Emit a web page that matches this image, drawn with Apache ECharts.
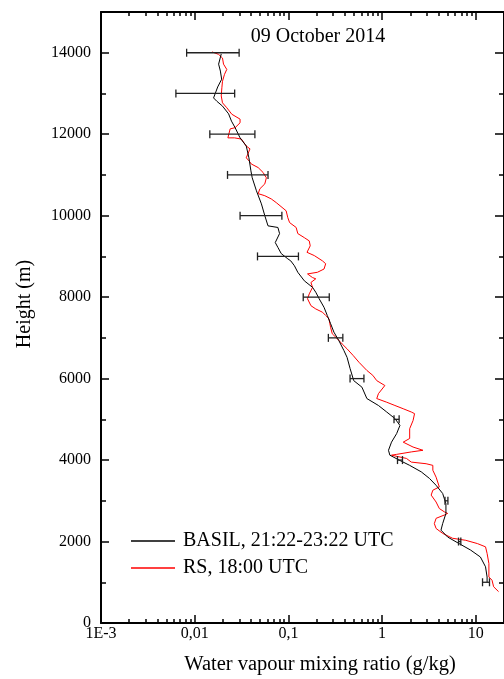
<!DOCTYPE html>
<html><head><meta charset="utf-8">
<script src="https://cdn.jsdelivr.net/npm/echarts@6/dist/echarts.min.js"></script>
<style>html,body{margin:0;padding:0;background:#fff}#c{width:504px;height:679px}</style>
</head><body><div id="c"></div>
<script>
// ---- data ----
const chartTitle = '09 October 2014';
const xTitle = 'Water vapour mixing ratio (g/kg)';
const yTitle = 'Height (m)';
const basilName = 'BASIL, 21:22-23:22 UTC';
const rsName = 'RS, 18:00 UTC';

const xMajorTicks = [0.001, 0.01, 0.1, 1, 10];
const xMajorLabels = ['1E-3', '0,01', '0,1', '1', '10'];
const xMinorTicks = [0.002,0.003,0.004,0.005,0.006,0.007,0.008,0.009,
  0.02,0.03,0.04,0.05,0.06,0.07,0.08,0.09,
  0.2,0.3,0.4,0.5,0.6,0.7,0.8,0.9,
  2,3,4,5,6,7,8,9];
const yMajorTicks = [0,2000,4000,6000,8000,10000,12000,14000];
const yMinorTicks = [1000,3000,5000,7000,9000,11000,13000];

const basilH = [13970,13720,13550,13350,13160,12890,12810,12690,12500,12320,12160,11910,11710,11420,11100,10930,10610,10290,10000,9750,9710,9560,9340,9220,9070,8940,8890,8770,8610,8400,8240,8120,7960,7750,7550,7350,7140,6930,6690,6520,6250,5950,5790,5510,5340,5180,5020,4850,4650,4440,4240,4120,3990,3870,3710,3550,3380,3180,2930,2690,2440,2280,2110,1950,1790,1620,1380,1130,1000];
const basilQ = [0.0192,0.0180,0.0188,0.0194,0.0176,0.0159,0.0172,0.0198,0.0230,0.0247,0.0270,0.0305,0.0355,0.0379,0.0398,0.0411,0.0456,0.0515,0.0560,0.0606,0.0773,0.0805,0.0724,0.0773,0.0838,0.0986,0.106,0.116,0.126,0.148,0.181,0.196,0.213,0.240,0.260,0.282,0.306,0.346,0.391,0.423,0.455,0.498,0.609,0.688,0.914,1.12,1.37,1.55,1.43,1.26,1.17,1.21,1.55,1.97,2.62,3.20,3.77,4.43,4.80,4.80,4.43,4.25,5.01,6.63,8.81,11.2,12.7,13.2,13.2];

const rsH = [14020,13960,13870,13720,13590,13470,13300,13140,12940,12770,12650,12490,12370,12280,12160,12130,11910,11910,11880,11710,11640,11420,11340,11270,11180,11060,10930,10780,10660,10540,10490,10410,10320,10120,9950,9830,9710,9560,9460,9380,9260,9100,9020,8890,8820,8690,8610,8570,8480,8450,8360,8240,8080,7960,7790,7710,7630,7550,7470,7260,7100,6980,6850,6730,6570,6400,6200,6080,5950,5830,5630,5510,5420,5340,5260,5180,5140,4970,4770,4530,4440,4320,4240,4200,4140,4120,4040,3950,3910,3870,3750,3580,3340,3260,3140,2970,2810,2730,2690,2650,2570,2440,2320,2200,2080,2030,1950,1870,1710,1460,1130,1050,890,770];
const rsQ = [0.0153,0.0180,0.0198,0.0203,0.0220,0.0208,0.0198,0.0195,0.0192,0.0198,0.0220,0.0249,0.0305,0.0305,0.0270,0.0239,0.0226,0.0266,0.0315,0.0355,0.0389,0.0355,0.0382,0.0401,0.0476,0.0537,0.0582,0.0560,0.0496,0.0476,0.0560,0.0657,0.0742,0.0946,0.0986,0.103,0.121,0.126,0.148,0.167,0.171,0.158,0.189,0.231,0.250,0.240,0.204,0.160,0.181,0.196,0.174,0.181,0.167,0.160,0.174,0.196,0.231,0.250,0.271,0.282,0.294,0.332,0.375,0.423,0.490,0.567,0.688,0.796,0.877,1.07,0.914,0.877,1.12,1.37,1.68,2.05,2.22,2.14,1.97,1.97,1.68,2.14,2.73,2.05,1.43,1.26,1.82,2.05,2.95,3.48,3.48,3.77,4.08,3.48,3.34,3.77,4.08,4.61,5.01,4.61,3.77,3.61,3.77,4.43,5.65,7.81,10.4,12.7,13.2,13.8,13.8,14.9,15.5,17.5];

const errH  = [14000,13000,12000,11000,10000,9000,8000,7000,6000,5000,4000,3000,2000,1000];
const errLo = [0.0082,0.0063,0.0145,0.0224,0.0305,0.0468,0.144,0.267,0.455,1.34,1.46,4.69,6.54,11.8];
const errHi = [0.0298,0.0267,0.0439,0.0606,0.0852,0.128,0.273,0.381,0.640,1.52,1.65,5.04,6.92,14.0];

// ---- chart ----
const F = 'Liberation Serif';
const X_MIN = 0.001, X_MAX = 20, Y_MIN = 0, Y_MAX = 15000;
const chart = echarts.init(document.getElementById('c'), null, {renderer: 'canvas'});

function xLabel(v) {
  const i = xMajorTicks.findIndex(t => Math.abs(Math.log10(t) - v) < 1e-6);
  return i >= 0 ? xMajorLabels[i] : '';
}
const tickStyle = {color: '#000', width: 1.5};
// data axis (log scale) – carries the series, draws nothing itself
const dataX = {
  type: 'log', logBase: 10, min: X_MIN, max: X_MAX, position: 'bottom', gridIndex: 0,
  axisLine: {show: false}, axisTick: {show: false}, axisLabel: {show: false},
  splitLine: {show: false}, minorTick: {show: false}
};
// decoration axes in log10 space (tick marks at log10 of the tick values)
function xAx(pos, ticks, len, line, labels) {
  const lt = ticks.map(t => Math.log10(t));
  return {
    type: 'value', min: Math.log10(X_MIN), max: Math.log10(X_MAX), position: pos, gridIndex: 0,
    axisLine: {show: line, onZero: false, lineStyle: {color: '#000', width: 2}},
    axisTick: {show: true, inside: true, length: len, customValues: lt, lineStyle: tickStyle},
    axisLabel: labels ? {show: true, customValues: lt, formatter: xLabel, fontFamily: F, fontSize: 16, color: '#000', margin: 3} : {show: false},
    splitLine: {show: false}, minorTick: {show: false}
  };
}
function yAx(pos, ticks, len, line, labels) {
  return {
    type: 'value', min: Y_MIN, max: Y_MAX, position: pos, gridIndex: 0,
    axisLine: {show: line, onZero: false, lineStyle: {color: '#000', width: 2}},
    axisTick: {show: true, inside: true, length: len, customValues: ticks, lineStyle: tickStyle},
    axisLabel: labels ? {show: true, customValues: yMajorTicks, formatter: v => String(v), fontFamily: F, fontSize: 16, color: '#000', margin: 10} : {show: false},
    splitLine: {show: false}, minorTick: {show: false}
  };
}

const option = {
  animation: false,
  backgroundColor: '#fff',
  grid: {left: 101, top: 12, width: 407.6, height: 611, containLabel: false},
  xAxis: [
    dataX,
    xAx('bottom', xMajorTicks, 8, true, true),
    xAx('bottom', xMinorTicks, 4, false, false),
    xAx('top', xMajorTicks, 8, true, false),
    xAx('top', xMinorTicks, 4, false, false)
  ],
  yAxis: [
    yAx('left', yMajorTicks, 8, true, true),
    yAx('left', yMinorTicks, 5, false, false),
    yAx('right', yMajorTicks, 9, true, false),
    yAx('right', yMinorTicks, 5, false, false)
  ],
  legend: {
    data: [basilName, rsName], orient: 'vertical', left: 131, top: 531, padding: 0,
    icon: 'rect', itemWidth: 44, itemHeight: 1.3, itemGap: 7,
    textStyle: {fontFamily: F, fontSize: 20, color: '#000', padding: [0, 0, 0, 3]}
  },
  graphic: [
    {type: 'text', x: 318, y: 37, style: {text: chartTitle, font: '20px "Liberation Serif"', fill: '#000', textAlign: 'center', textVerticalAlign: 'middle'}},
    {type: 'text', x: 320, y: 665, style: {text: xTitle, font: '20.5px "Liberation Serif"', fill: '#000', textAlign: 'center', textVerticalAlign: 'middle'}},
    {type: 'text', x: 25, y: 304, rotation: Math.PI / 2, style: {text: yTitle, font: '20px "Liberation Serif"', fill: '#000', textAlign: 'center', textVerticalAlign: 'middle'}}
  ],
  series: [
    {
      name: rsName, type: 'line', xAxisIndex: 0, yAxisIndex: 0, symbol: 'none', z: 2,
      lineStyle: {color: '#ff0000', width: 1}, itemStyle: {color: '#ff0000'},
      data: rsH.map((h, i) => [rsQ[i], h])
    },
    {
      name: basilName, type: 'line', xAxisIndex: 0, yAxisIndex: 0, symbol: 'none', z: 3,
      lineStyle: {color: '#000', width: 1}, itemStyle: {color: '#000'},
      data: basilH.map((h, i) => [basilQ[i], h])
    },
    {
      name: 'err', type: 'custom', xAxisIndex: 0, yAxisIndex: 0, z: 4,
      encode: {x: [0, 1], y: 2},
      data: errH.map((h, i) => [errLo[i], errHi[i], h]),
      renderItem: function (params, api) {
        const y = api.value(2);
        const p1 = api.coord([api.value(0), y]);
        const p2 = api.coord([api.value(1), y]);
        const c = 4;
        const st = {stroke: '#222', lineWidth: 1.3};
        return {type: 'group', children: [
          {type: 'line', shape: {x1: p1[0], y1: p1[1], x2: p2[0], y2: p2[1]}, style: st},
          {type: 'line', shape: {x1: p1[0], y1: p1[1] - c, x2: p1[0], y2: p1[1] + c}, style: st},
          {type: 'line', shape: {x1: p2[0], y1: p2[1] - c, x2: p2[0], y2: p2[1] + c}, style: st}
        ]};
      }
    }
  ]
};
chart.setOption(option);
</script></body></html>
